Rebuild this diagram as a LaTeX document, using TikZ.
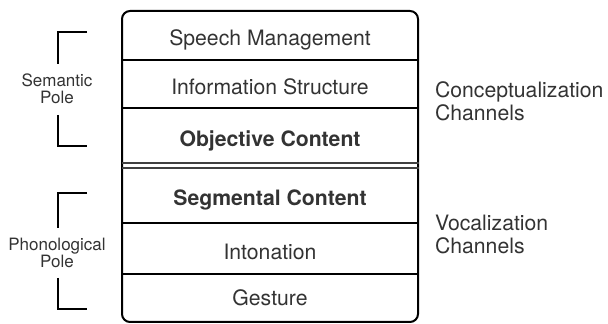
\documentclass[tikz,border=0pt]{standalone}
\usepackage{fontspec}
\setmainfont{TeX Gyre Heros}
\usetikzlibrary{positioning}

\begin{document}
\begin{tikzpicture}[x=0.5pt, y=-0.5pt,
    layer/.style={font=\fontsize{10.6}{12}\selectfont, text=black!80, anchor=base},
    pole/.style={font=\fontsize{8.5}{8.5}\selectfont, text=black!80, align=center},
    channel/.style={font=\fontsize{10.6}{11.5}\selectfont, text=black!80, align=left, anchor=west},
    bracket/.style={line width=0.75pt}]
  \useasboundingbox (0,0) rectangle (608,324);

  % Outer box with the row dividers
  \draw[line width=1pt, rounded corners=4pt] (122,11) rectangle (418,322);
  \foreach \y in {60,108,223,274}
    \draw[line width=0.8pt] (122,\y) -- (418,\y);
  % Double line between the two poles
  \draw[line width=0.6pt, black!75] (122,163) -- (419,163) (122,168) -- (419,168);

  % Channels, top to bottom
  \node[layer] (speech) at (270,46) {Speech Management};
  \node[layer] (info) at (270,95) {Information Structure};
  \node[layer] (objective) at (270,147) {\bfseries Objective Content};
  \node[layer] (segmental) at (270,206) {\bfseries Segmental Content};
  \node[layer] (intonation) at (270,260) {Intonation};
  \node[layer] (gesture) at (270,306) {Gesture};

  % Poles on the left
  \node[pole] (semantic) at (57,89) {Semantic\\Pole};
  \node[pole] (phonological) at (57,253) {Phonological\\Pole};
  \draw[bracket] (87,32) -- (58,32) -- (58,64);
  \draw[bracket] (58,115) -- (58,146) -- (87,146);
  \draw[bracket] (87,193) -- (58,193) -- (58,228);
  \draw[bracket] (58,278) -- (58,309) -- (87,309);

  % Channel groups on the right
  \node[channel] (concept) at (428,101) {Conceptualization\\Channels};
  \node[channel] (vocal) at (428,234) {Vocalization\\Channels};
\end{tikzpicture}
\end{document}
